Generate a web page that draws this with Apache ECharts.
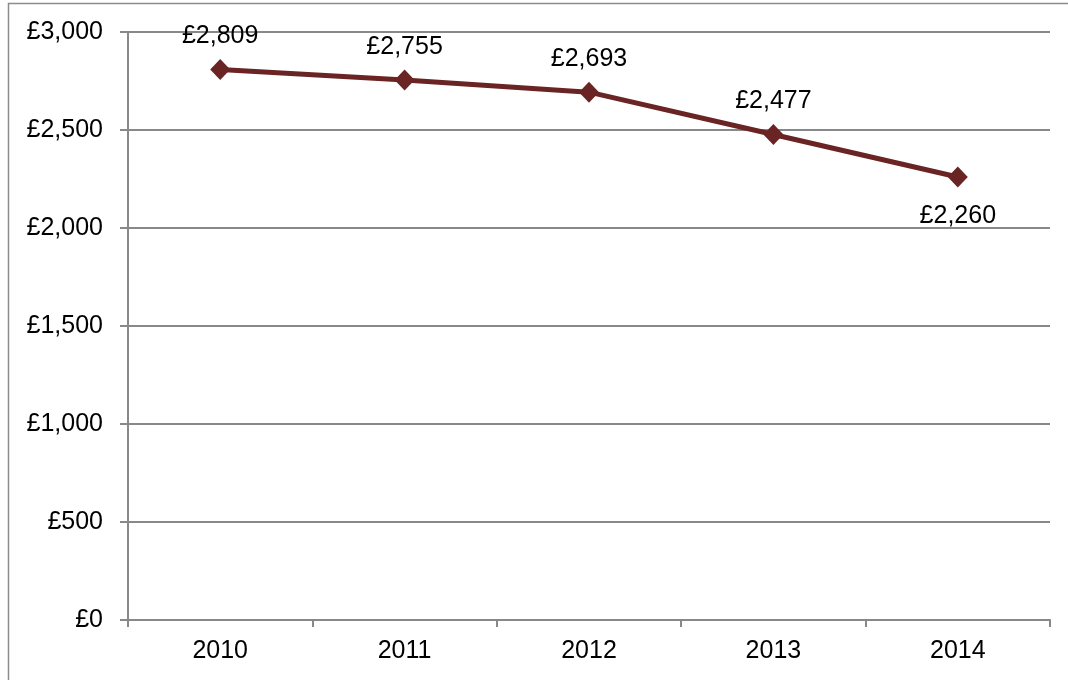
<!DOCTYPE html>
<html><head><meta charset="utf-8">
<script src="https://cdn.jsdelivr.net/npm/echarts@6/dist/echarts.min.js"></script>
<style>html,body{margin:0;padding:0;background:#fff}#c{width:1068px;height:680px}</style>
</head><body><div id="c"></div>
<script>
const categories = ['2010', '2011', '2012', '2013', '2014'];
const values = [2809, 2755, 2693, 2477, 2260];
const labelPositions = ['top', 'top', 'top', 'top', 'bottom'];

function fmt(v) { return '£' + v.toLocaleString('en-GB'); }

const FONT = 'Liberation Sans, Arial';
const chart = echarts.init(document.getElementById('c'), null, { renderer: 'canvas' });
chart.setOption({
  animation: false,
  graphic: [{ type: 'rect', shape: { x: 8.5, y: 3.5, width: 1100, height: 700 }, style: { fill: 'none', stroke: '#8c8c8c', lineWidth: 1.5 }, silent: true }],
  grid: { left: 128, right: 18, top: 32, bottom: 60 },
  xAxis: {
    type: 'category', data: categories, boundaryGap: true,
    axisLine: { lineStyle: { color: '#888', width: 2 } },
    axisTick: { show: true, length: 7, lineStyle: { color: '#888', width: 2 } },
    axisLabel: { color: '#000', fontFamily: FONT, fontSize: 25, margin: 19 }
  },
  yAxis: {
    type: 'value', min: 0, max: 3000, interval: 500,
    axisLine: { show: true, lineStyle: { color: '#888', width: 2 } },
    axisTick: { show: true, length: 8, lineStyle: { color: '#888', width: 2 } },
    splitLine: { lineStyle: { color: '#888', width: 2 } },
    axisLabel: { color: '#000', fontFamily: FONT, fontSize: 25, margin: 25, formatter: fmt }
  },
  series: [{
    type: 'line',
    data: values.map((v, i) => ({ value: v, label: { position: labelPositions[i], distance: labelPositions[i] === 'bottom' ? 16 : 10 } })),
    symbol: 'diamond', symbolSize: [20, 21],
    lineStyle: { color: '#6b2424', width: 5 },
    itemStyle: { color: '#6b2424' },
    label: { show: true, color: '#000', fontFamily: FONT, fontSize: 25, formatter: p => fmt(p.value) }
  }]
});
</script></body></html>
